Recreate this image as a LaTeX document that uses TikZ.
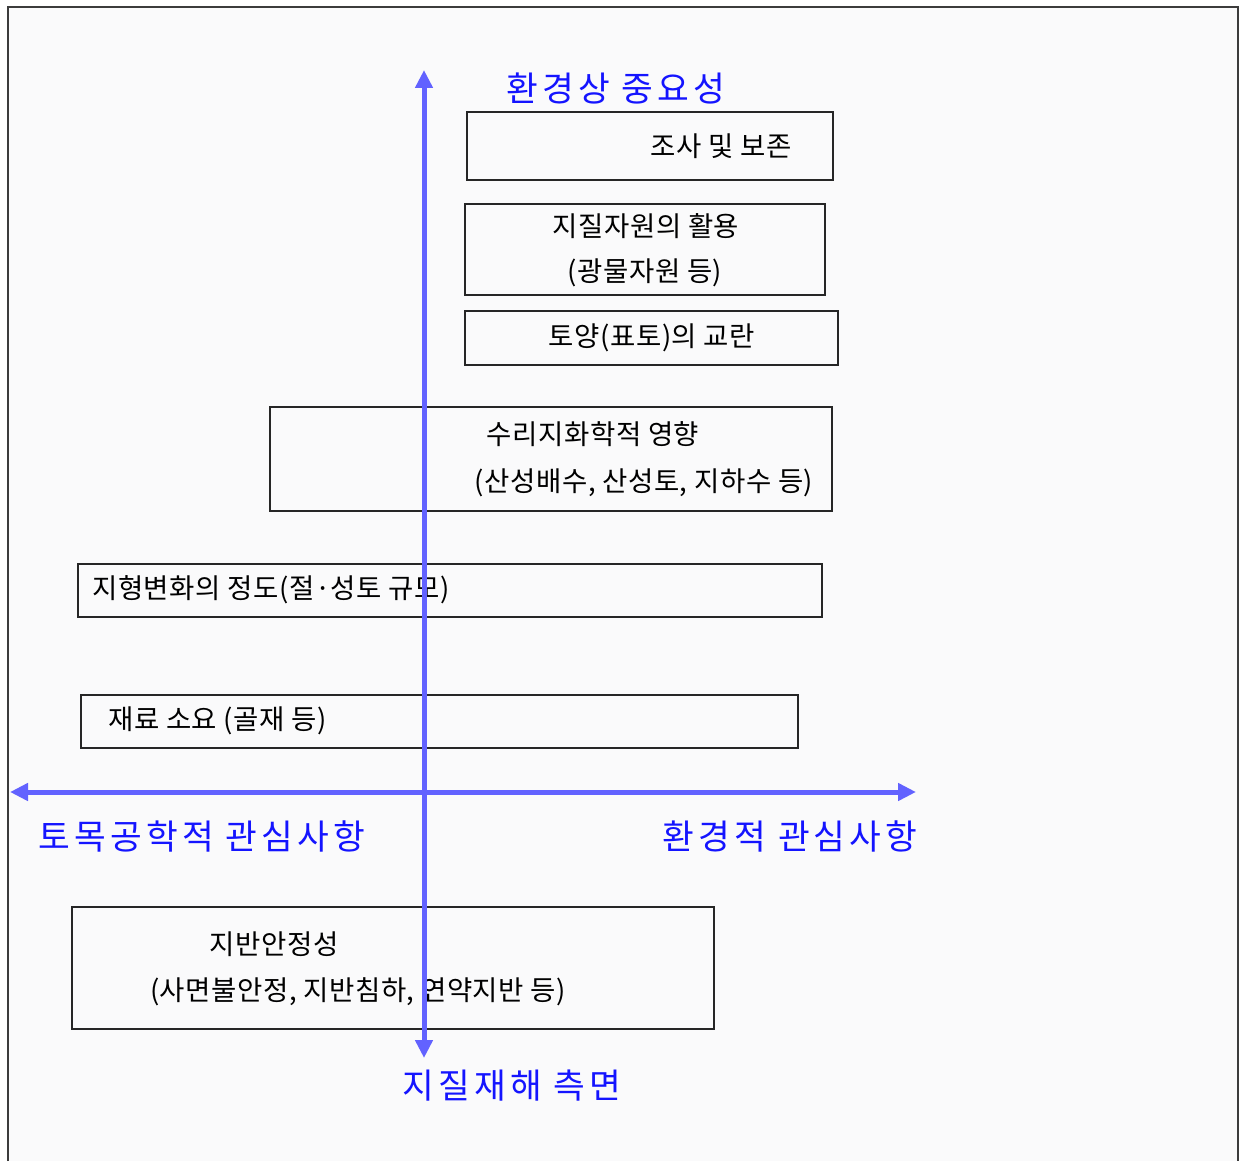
\documentclass[tikz,border=0pt]{standalone}
\usepackage{fontspec}
\setmainfont{Noto Sans CJK KR}
\newfontfamily\krblack[LetterSpace=2]{Noto Sans CJK KR}
\newfontfamily\krblue[LetterSpace=12]{Noto Sans CJK KR}
\usetikzlibrary{arrows.meta}
\definecolor{axisblue}{RGB}{98,98,255}
\definecolor{labelblue}{RGB}{20,20,255}
\definecolor{bgpaper}{RGB}{250,250,251}
\definecolor{framegray}{RGB}{60,60,60}
\tikzset{
  box/.style={draw=black!85, line width=1.2pt, rectangle, inner sep=0pt},
  txt/.style={inner sep=0pt, font=\fontsize{27.5}{32}\selectfont\krblack, text=black},
  bluelabel/.style={inner sep=0pt, font=\fontsize{34.5}{38}\selectfont\krblue, text=labelblue},
  axis/.style={draw=axisblue, line width=5pt, {Triangle[width=17pt,length=18pt]}-{Triangle[width=17pt,length=18pt]}}
}
\begin{document}
\begin{tikzpicture}[x=1pt,y=-1pt]
\useasboundingbox (0,0) rectangle (1246,1161);
\fill[white] (0,0) rectangle (1246,1161);
\fill[bgpaper] (8,7) rectangle (1238,1161);
\draw[framegray, line width=1.2pt] (8,1161) -- (8,7) -- (1238,7) -- (1238,1161);

% boxes
\node[box, minimum width=366pt, minimum height=68pt] (b1) at (650,146) {};
\node[box, minimum width=360pt, minimum height=91pt] (b2) at (645,249.5) {};
\node[box, minimum width=373pt, minimum height=54pt] (b3) at (651.5,338) {};
\node[box, minimum width=562pt, minimum height=104pt] (b4) at (551,459) {};
\node[box, minimum width=744pt, minimum height=53pt] (b5) at (450,590.5) {};
\node[box, minimum width=717pt, minimum height=53pt] (b6) at (439.5,721.5) {};
\node[box, minimum width=642pt, minimum height=122pt] (b7) at (393,968) {};

% box texts
\node[txt] (t1) at (721,146) {조사 및 보존};
\node[txt] (t2a) at (646,226) {지질자원의 활용};
\node[txt] (t2b) at (645,273) {(광물자원 등)};
\node[txt] (t3) at (652,338) {토양(표토)의 교란};
\node[txt] (t4a) at (593,434) {수리지화학적 영향};
\node[txt] (t4b) at (644,483) {(산성배수, 산성토, 지하수 등)};
\node[txt, anchor=west] (t5) at (92,590) {지형변화의 정도(절·성토 규모)};
\node[txt, anchor=west] (t6) at (108,721) {재료 소요 (골재 등)};
\node[txt] (t7a) at (274,944) {지반안정성};
\node[txt] (t7b) at (358,992) {(사면불안정, 지반침하, 연약지반 등)};

% axes
\coordinate (ytop) at (424,70);
\coordinate (ybot) at (424,1058);
\coordinate (xleft) at (10,792);
\coordinate (xright) at (916,792);
\draw[axis] (ybot) -- (ytop);
\draw[axis] (xleft) -- (xright);

% axis labels
\node[bluelabel] (ltop) at (616,88) {환경상 중요성};
\node[bluelabel] (lleft) at (202,836) {토목공학적 관심사항};
\node[bluelabel] (lright) at (790,836) {환경적 관심사항};
\node[bluelabel] (lbot) at (512,1086) {지질재해 측면};
\end{tikzpicture}
\end{document}
